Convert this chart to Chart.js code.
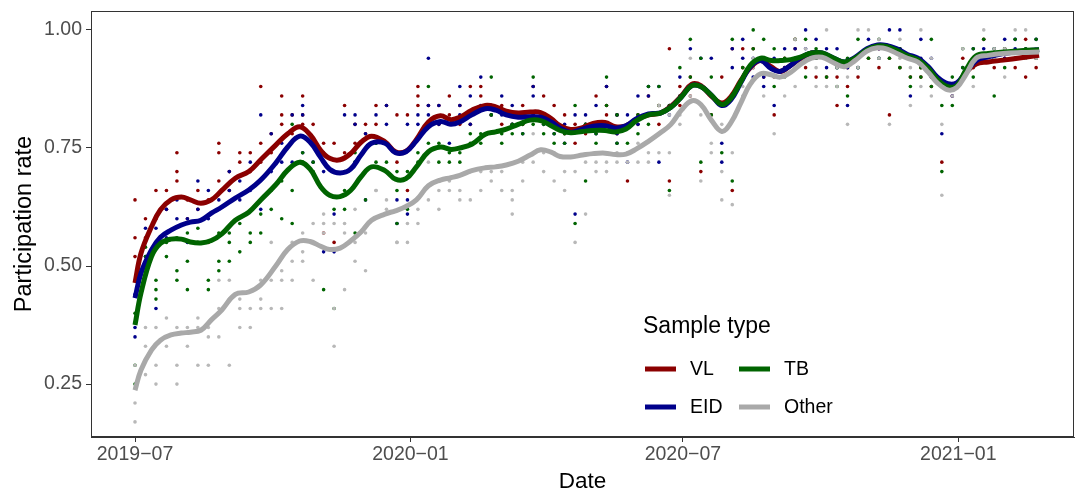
<!DOCTYPE html>
<html>
<head>
<meta charset="utf-8">
<script src="https://cdn.jsdelivr.net/npm/chart.js@4/dist/chart.umd.min.js"></script>
<style>
  body { margin: 0; background: #fff; }
  #wrap { width: 1078px; height: 493px; }
</style>
</head>
<body>
<div id="wrap"><canvas id="myChart" width="1078" height="493"></canvas></div>
<script>
// days since 2019-07-01
const xTickDays = [0, 184, 366, 550];
const xTickLabels = ["2019−07", "2020−01", "2020−07", "2021−01"];
const yTicks = [0.25, 0.5, 0.75, 1.0];

const seriesNames = ["VL", "EID", "TB", "Other"];
const seriesColors = ["#8b0000", "#00008b", "#006400", "#a9a9a9"];
const dotColors = ["#8b0000", "#00008b", "#006400", "#b8b8b8"];

// smoothed lines
const lineDays = [0,4,11,17,24,31,37,44,51,58,67,76,84,94,102,110,117,124,130,137,
    144,151,158,167,174,181,188,196,204,211,217,225,234,241,248,256,264,271,278,284,
    291,299,306,314,321,328,335,343,351,358,365,372,378,385,392,398,405,411,418,425,
    431,438,445,452,459,467,474,481,489,496,502,509,516,523,530,536,543,549,555,562,
    570,580,592,604];

const vlLine = [.464,.527,.583,.619,.64,.646,.64,.633,.64,.66,
    .686,.70,.725,.756,.78,.795,.778,.745,.728,.725,
    .738,.762,.775,.763,.742,.743,.768,.805,.818,.81,
    .815,.83,.84,.837,.828,.824,.826,.825,.812,.797,
    .789,.793,.802,.804,.795,.797,.81,.82,.824,.838,
    .86,.885,.882,.86,.845,.858,.894,.92,.935,.922,
    .912,.925,.94,.951,.95,.938,.93,.94,.958,.966,
    .966,.958,.945,.938,.92,.898,.883,.886,.91,.928,
    .932,.936,.941,.946];
const eidLine = [.432,.485,.534,.561,.576,.587,.593,.597,.612,.625,
    .644,.661,.682,.718,.752,.775,.762,.73,.705,.697,
    .705,.735,.76,.76,.74,.742,.765,.795,.806,.80,
    .805,.82,.833,.83,.82,.815,.816,.815,.805,.792,
    .783,.79,.796,.797,.792,.797,.812,.822,.824,.836,
    .858,.882,.88,.862,.84,.852,.89,.922,.935,.918,
    .912,.925,.942,.951,.951,.94,.932,.942,.96,.968,
    .967,.96,.948,.94,.922,.90,.886,.888,.91,.935,
    .943,.95,.955,.958];
const tbLine = [.375,.443,.52,.548,.557,.557,.551,.549,.554,.568,
    .597,.614,.64,.672,.703,.72,.705,.668,.65,.647,
    .66,.689,.71,.702,.684,.685,.71,.742,.752,.747,
    .75,.758,.779,.784,.79,.80,.809,.808,.797,.787,
    .782,.785,.787,.787,.784,.79,.808,.82,.824,.836,
    .858,.882,.88,.862,.842,.855,.892,.925,.94,.935,
    .935,.937,.943,.951,.951,.94,.932,.94,.958,.966,
    .965,.957,.945,.937,.918,.895,.88,.882,.915,.945,
    .95,.953,.956,.958];
const otherLine = [.237,.28,.322,.343,.354,.358,.36,.364,.386,.407,
    .44,.445,.46,.5,.535,.553,.552,.542,.535,.538,
    .553,.572,.597,.61,.617,.626,.64,.67,.682,.687,
    .692,.702,.708,.71,.714,.722,.735,.746,.741,.732,
    .731,.735,.738,.739,.736,.737,.748,.764,.782,.80,
    .83,.85,.842,.809,.785,.803,.847,.885,.907,.905,
    .90,.91,.928,.94,.942,.93,.922,.935,.955,.962,
    .96,.95,.94,.932,.91,.888,.873,.878,.905,.94,
    .946,.95,.952,.953];

// weekly observed rates (one list per week, from week 0)
const vlDots = [[.52,.56,.64],[.6,.56],[.6,.66],[.66,.62],[.68,.74,.7],[.64,.6],[.66,.62],[.55,.64],
    [.68,.76,.74],[.7,.66],[.72,.74],[.74,.7],[.76,.88,.72],[.78,.74],[.86,.82,.8],[.82,.78],
    [.86,.82,.8],[.8,.76],[.76,.74,.57],[.76,.55],[.84,.74],[.8,.76],[.8,.78],[.84,.8],
    [.84,.76],[.82,.72],[.82,.66],[.88,.86,.84],[.84,.8],[.84,.8],[.86,.82],[.84,.8],
    [.88,.8],[.88,.86],[.84,.82],[.84,.8],[.82,.8],[.84,.8],[.88,.82],[.86,.82],
    [.84,.8],[.82,.78],[.8,.76],[.8,.78],[.86,.8],[.88,.84,.82],[.82,.78],[.8,.68],
    [.82,.8],[.86,.82],[.84,.8],[.96,.68,.84],[.88,.84],[.9,.86],[.7,.88],[.82,.86],
    [.9,.84],[.96,.66,.86],[.96,.92],[.96,.92],[.9,.94],[.82,.9],[.92,.94],[.98,.96],
    [.94,.92],[.9,.94],[.94,.9],[.9,.84],[.92,.88],[.9,.94],[.94,.96],[.92,.96],
    [.82,.94],[.92,.96],[.94,.9],[.92,.9],[.9,.88],[.72,.88],[.88,.86],[.9,.94],
    [.94,.92],[.98,.94],[.92,.94],[.94,.96],[.94,.92],[.98,.9],[.92,.94]];
const eidDots = [[.44,.37,.35],[.58,.52],[.41,.58],[.62,.56],[.64,.6],[.55,.6],[.68,.62],[.6,.66],
    [.62,.64],[.7,.66],[.68,.64],[.72,.66],[.82,.62],[.7,.78],[.72,.76],[.72,.82],
    [.84,.82,.74],[.76,.72],[.53,.7],[.61,.53],[.82,.7],[.82,.72,.8],[.78,.64],[.82,.76],
    [.84,.8],[.59,.64,.74],[.61,.64,.8],[.8,.82],[.94,.84,.82],[.84,.8],[.8,.76],[.88,.84,.82],
    [.86,.8],[.9,.84],[.84,.82],[.86,.82],[.8,.84],[.78,.82],[.86,.88,.82],[.82,.8],
    [.78,.8],[.76,.8],[.82,.61],[.82,.8],[.84,.78],[.88,.8],[.82,.76,.78],[.82,.72],
    [.86,.8],[.86,.88],[.88,.72],[.84,.82],[.9,.86],[.96,.88],[.94,.88],[.94,.86],
    [.72,.76,.84],[.96,.92],[.98,.94],[.94,.9],[.9,.88],[.84,.94],[.92,.96],[.96,.94],
    [1.0,.96],[.98,.94],[.92,.96],[.96,.92],[.84,.92],[.94,.92],[.98,.96],[.96,.94],
    [1.0,.96],[1.0,.96],[.86,.94],[.98,.94],[.94,.9],[.78,.88],[.88,.86],[.9,.92],
    [.94,.96],[.96,.94],[.96,.94],[.98,.94],[.96,.98],[.96,.94],[.98,.96]];
const tbDots = [[.29,.25,.4],[.52,.54],[.45,.43,.47],[.55,.52],[.49,.47,.56],[.51,.57,.45],[.55,.58],[.45,.47],
    [.57,.51,.49],[.57,.51,.55],[.59,.53],[.55,.57],[.61,.57],[.62,.66],[.6,.68],[.8,.59,.66],
    [.72,.74],[.72,.7,.76],[.45,.66],[.41,.62],[.62,.66],[.57,.74,.72],[.64,.7],[.76,.72],
    [.72,.7],[.59,.7,.66],[.62,.7],[.72,.74],[.88,.76],[.76,.72],[.72,.74],[.72,.74],
    [.76,.78],[.76,.78],[.9,.84,.82],[.76,.78],[.78,.8],[.78,.8],[.9,.8],[.8,.78],
    [.76,.78],[.78,.76],[.84,.59],[.68,.8],[.76,.78],[.9,.84],[.82,.76],[.76,.8],
    [.82,.78],[.88,.8],[.88,.84],[.66,.84],[.92,.86],[.98,.9],[.94,.72],[.9,.82],
    [.74,.84],[.98,.68],[.92,.9],[1.0,.96],[.98,.94],[.88,.96],[.9,.94],[.98,.94],
    [.98,.9],[.96,.94],[.9,.94],[.92,.88],[.86,.94],[.98,.92],[.94,.96],[.94,.98],
    [.94,.96],[.96,.92],[.9,.88],[.92,.9],[.98,.88],[.7,.84],[.84,.9],[.92,.96],
    [.9,.96],[.98,.94],[.86,.96],[.92,.96],[.94,.98],[.94,.96],[.98,.94]];
const otherDots = [[.21,.17,.29],[.33,.37,.27],[.37,.29,.25],[.39,.33],[.25,.37,.29],[.33,.37],[.37,.29,.39],[.29,.35,.37],
    [.35,.47,.41],[.29,.43,.47],[.43,.41,.37],[.41,.37],[.43,.41,.47],[.41,.55,.47],[.49,.47,.41],[.47,.51,.55],
    [.57,.51,.53],[.59,.47],[.61,.59,.57],[.33,.59,.41],[.59,.57,.45],[.62,.55,.51],[.57,.49],[.66,.66],
    [.64,.62],[.55,.55],[.55,.59],[.59,.62],[.72,.64],[.62,.66],[.66,.68],[.64,.66],
    [.64,.7],[.66,.7],[.68,.7],[.7,.66],[.64,.61,.66],[.68,.72],[.78,.72],[.74,.7],
    [.74,.68],[.66,.7],[.55,.7],[.61,.72],[.72,.7],[.7,.72],[.74,.72],[.72,.74],
    [.72,.76],[.72,.74],[.74,.84],[.65,.74,.82],[.82,.8],[.94,.86],[.68,.82],[.74,.76],
    [.7,.64,.8],[.63,.74],[.88,.86],[.94,.92],[.86,.94],[.78,.9],[.86,.9],[.88,.98],
    [.94,.96],[.88,.92],[1.0,.88],[.88,.92],[.8,.9],[1.0,.92],[1.0,.96],[.98,.94],
    [.8,.96],[.94,.98],[.84,.92],[1.0,.88],[.94,.86],[.65,.8,.88],[.86,.88],[.96,.9],
    [.88,.94],[1.0,.94],[.94,.96],[.9,.96],[1.0,.94],[1.0,.94],[.96,.94]];

const lineValues = [vlLine, eidLine, tbLine, otherLine];
const dotValues = [vlDots, eidDots, tbDots, otherDots];

function linePoints(vals) {
    return lineDays.map((d, i) => ({ x: d, y: vals[i] }));
}
function dotPoints(weeks) {
    let pts = [];
    weeks.forEach((vals, k) => {
        vals.forEach(v => pts.push({ x: k * 7, y: v }));
    });
    return pts;
}

let datasets = [];
seriesNames.forEach((name, i) => {
    // smaller order = drawn on top; Other line is topmost
    datasets.push({
        label: name,
        data: linePoints(lineValues[i]),
        showLine: true,
        borderColor: seriesColors[i],
        borderWidth: 5,
        pointRadius: 0,
        tension: 0.4,
        order: 4 - i,
    });
    datasets.push({
        label: name + " points",
        data: dotPoints(dotValues[i]),
        showLine: false,
        pointRadius: 1.8,
        pointBorderWidth: 0,
        backgroundColor: dotColors[i],
        order: 8 - i,
    });
});

const font = "'Liberation Sans', Arial, sans-serif";

const panelFrame = {
    id: "panelFrame",
    afterDraw(chart) {
        const a = chart.chartArea;
        const ctx = chart.ctx;
        ctx.save();
        ctx.strokeStyle = "#333333";
        ctx.lineWidth = 1;
        ctx.strokeRect(a.left + 0.5, a.top + 0.5, a.right - a.left - 1, a.bottom - a.top - 1);
        ctx.restore();
    }
};

const insideLegend = {
    id: "insideLegend",
    afterDraw(chart) {
        const ctx = chart.ctx;
        const a = chart.chartArea;
        const x0 = a.left + 552;
        ctx.save();
        ctx.fillStyle = "#000";
        ctx.textBaseline = "middle";
        ctx.textAlign = "left";
        ctx.font = "23px " + font;
        ctx.fillText("Sample type", x0, 327);
        ctx.font = "19.5px " + font;
        const cols = [x0 + 2, x0 + 96];
        const rows = [369, 407];
        seriesNames.forEach((name, i) => {
            const cx = cols[Math.floor(i / 2)];
            const cy = rows[i % 2];
            ctx.strokeStyle = seriesColors[i];
            ctx.lineWidth = 5;
            ctx.beginPath();
            ctx.moveTo(cx, cy);
            ctx.lineTo(cx + 31, cy);
            ctx.stroke();
            ctx.fillStyle = "#000";
            ctx.fillText(name, cx + 45, cy + 1);
        });
        ctx.restore();
    }
};

var ctx = document.getElementById("myChart").getContext("2d");
var myChart = new Chart(ctx, {
    type: "scatter",
    data: { datasets: datasets },
    options: {
        responsive: false,
        animation: false,
        layout: { padding: { top: 11, right: 3, left: 0, bottom: 0 } },
        plugins: {
            legend: { display: false },
            tooltip: { enabled: false },
        },
        scales: {
            x: {
                type: "linear",
                min: -29.4,
                max: 627.3,
                afterFit: (s) => { s.height = 56; s.paddingLeft = 0; s.paddingRight = 0; },
                afterBuildTicks: (s) => { s.ticks = xTickDays.map(v => ({ value: v })); },
                ticks: {
                    callback: (v, i) => xTickLabels[i],
                    color: "#4d4d4d",
                    font: { family: font, size: 19.5 },
                    padding: 1,
                    maxRotation: 0,
                    autoSkip: false,
                },
                grid: { drawOnChartArea: false, drawTicks: true, tickLength: 5, color: "#333333" },
                border: { display: true, color: "#333333" },
                title: {
                    display: true,
                    text: "Date",
                    color: "#000",
                    font: { family: font, size: 22.5, lineHeight: 1 },
                    padding: { top: 0, bottom: 0 },
                },
            },
            y: {
                type: "linear",
                min: 0.138,
                max: 1.04,
                afterFit: (s) => { s.width = 91; s.paddingTop = 0; s.paddingBottom = 0; },
                afterBuildTicks: (s) => { s.ticks = yTicks.map(v => ({ value: v })); },
                ticks: {
                    callback: (v) => v.toFixed(2),
                    color: "#4d4d4d",
                    font: { family: font, size: 19.5 },
                    padding: 4,
                },
                grid: { drawOnChartArea: false, drawTicks: true, tickLength: 5, color: "#333333" },
                border: { display: true, color: "#333333" },
                title: {
                    display: true,
                    text: "Participation rate",
                    color: "#000",
                    font: { family: font, size: 23.5, lineHeight: 1 },
                    padding: { top: 13, bottom: 0 },
                },
            },
        },
    },
    plugins: [panelFrame, insideLegend],
});
</script>
</body>
</html>
